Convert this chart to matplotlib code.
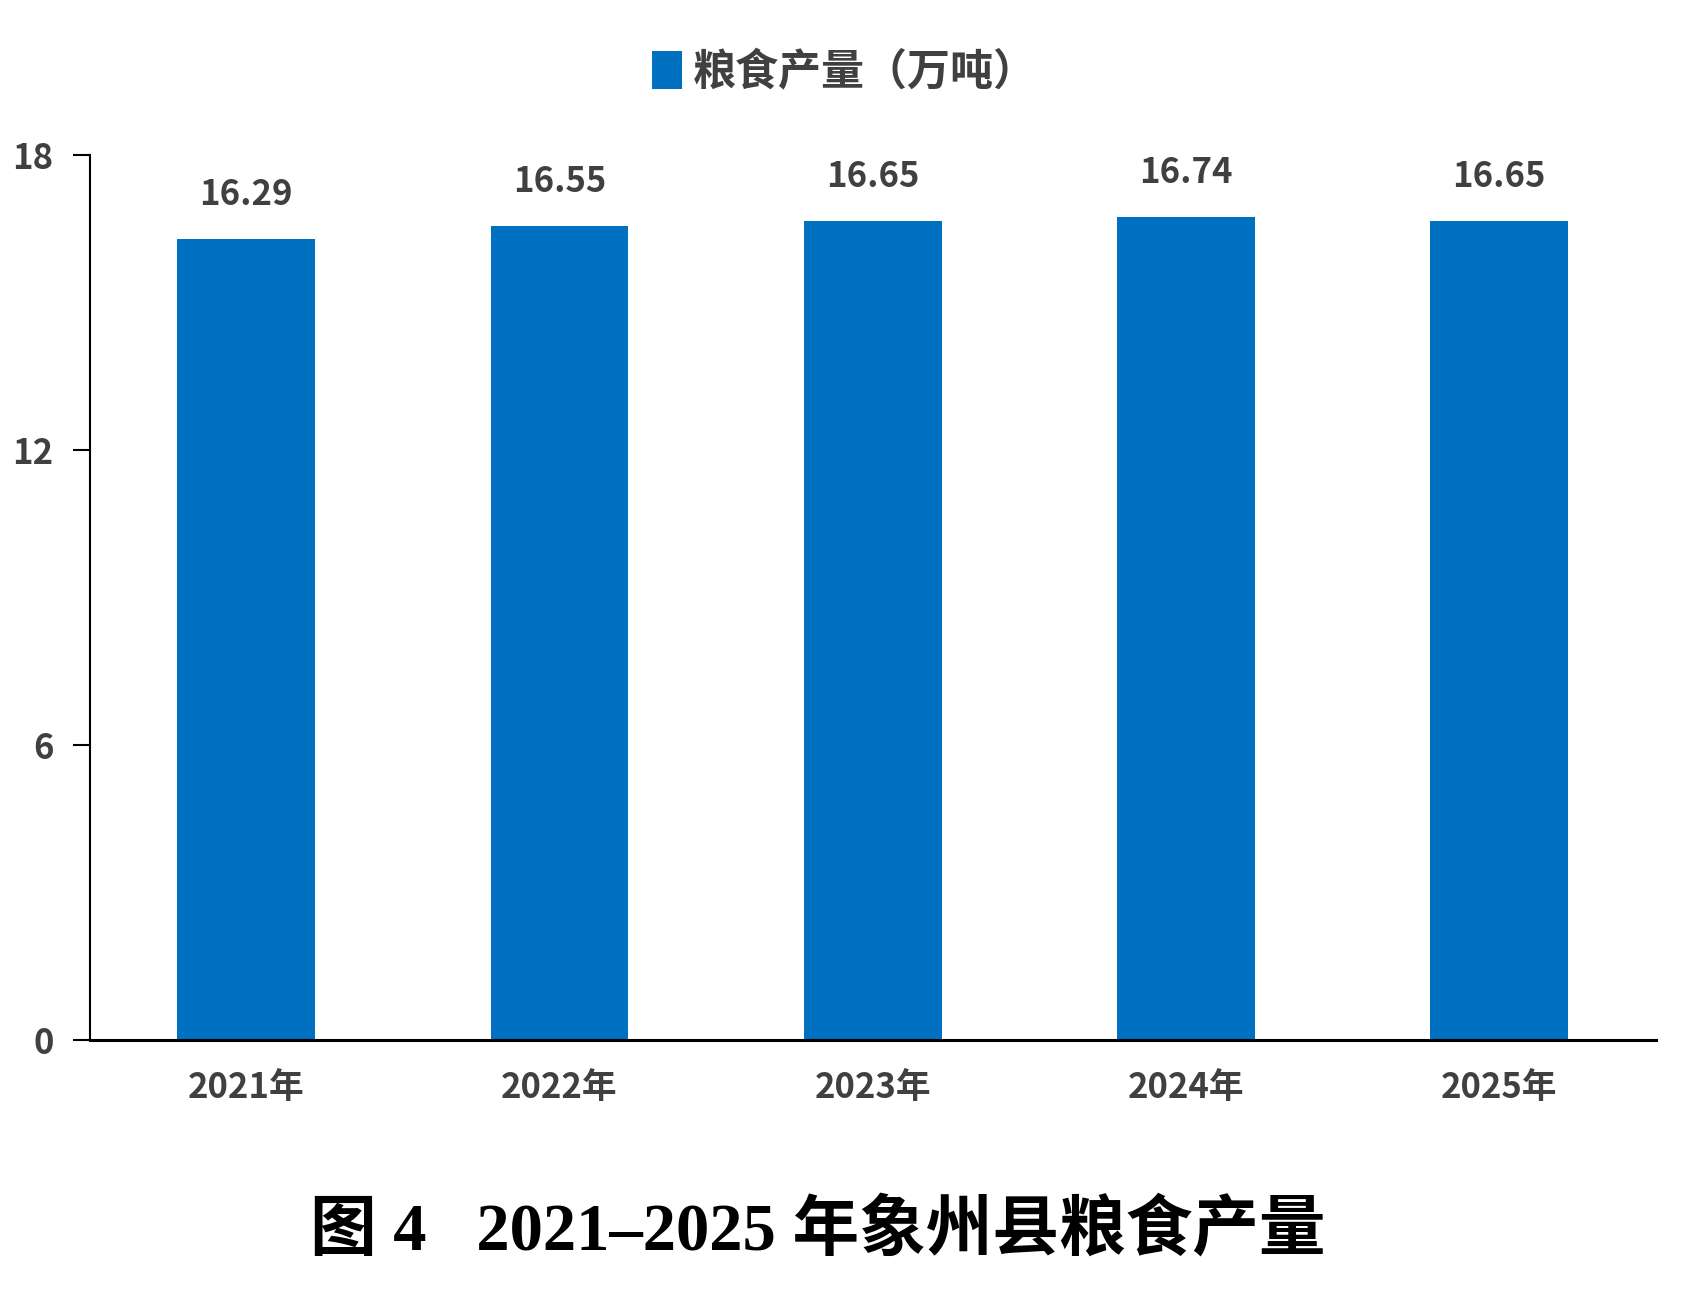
import matplotlib.pyplot as plt
import numpy as np

plt.rcParams['font.family'] = ['Noto Sans CJK SC', 'DejaVu Sans']

years = ['2021年', '2022年', '2023年', '2024年', '2025年']
grain = [16.29, 16.55, 16.65, 16.74, 16.65]
y_ticks = [0, 6, 12, 18]

BLUE = '#0070C0'
GREY = '#404040'

fig = plt.figure(figsize=(16.93, 12.9), dpi=100)
ax = fig.add_axes([0.053, 0.194, 0.925, 0.686])

x = np.arange(len(years))
bars = ax.bar(x, grain, width=0.44, color=BLUE, label='粮食产量（万吨）', zorder=2)

for xi, v in zip(x, grain):
    ax.text(xi, v + 0.55, f'{v:.2f}', ha='center', va='bottom',
            fontsize=25, fontweight='bold', color=GREY)

ax.set_xlim(-0.5, len(years) - 0.5)
ax.set_ylim(0, 18)
ax.set_yticks(y_ticks)
ax.set_xticks(x)
ax.set_xticklabels(years)

for s in ['top', 'right']:
    ax.spines[s].set_visible(False)
ax.spines['left'].set_linewidth(1.5)
ax.spines['bottom'].set_linewidth(2.2)

ax.tick_params(axis='y', direction='out', length=12, width=1.5, pad=14,
               labelsize=25, labelcolor=GREY)
ax.tick_params(axis='x', length=0, pad=22, labelsize=25, labelcolor=GREY)
for lab in ax.get_xticklabels() + ax.get_yticklabels():
    lab.set_fontweight('bold')

leg = ax.legend(loc='lower center', bbox_to_anchor=(0.482, 1.025), frameon=False,
                handlelength=0.7, handleheight=1.0, handletextpad=0.25,
                prop={'size': 31, 'weight': 'bold'})
for t in leg.get_texts():
    t.set_color(GREY)

fig.text(0.483, 0.045, '图 4   2021–2025 年象州县粮食产量', ha='center', va='center',
         fontsize=48, fontweight='bold', color='black',
         family=['Liberation Serif', 'Noto Sans CJK SC'])

fig.savefig('out.png', dpi=100)
